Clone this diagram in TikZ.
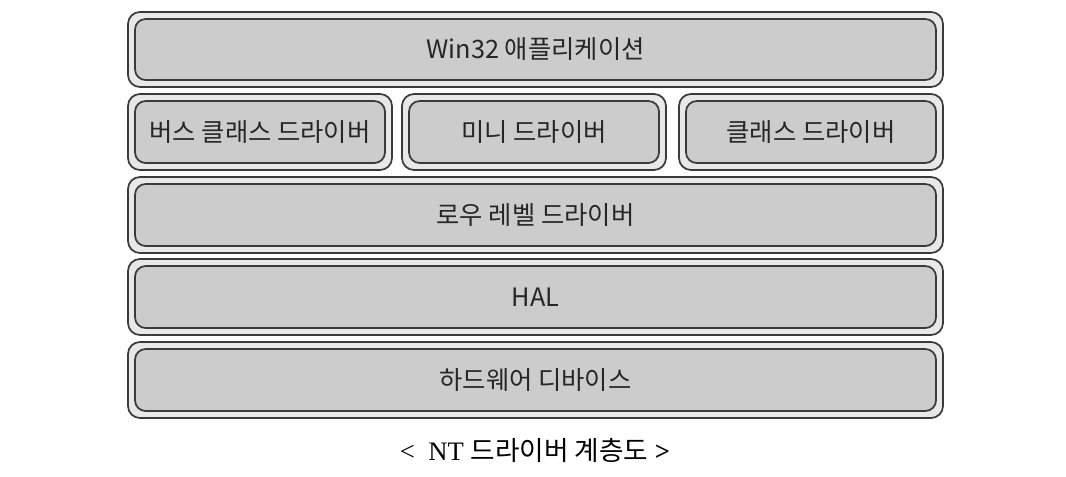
\documentclass[tikz,border=0pt]{standalone}
\usepackage{fontspec}
\setmainfont{Liberation Serif}
\newfontfamily\kr{Noto Sans CJK KR}
\usetikzlibrary{fit}
\definecolor{outerfill}{HTML}{E8E8E8}
\definecolor{innerfill}{HTML}{CCCCCC}
\definecolor{edge}{HTML}{3A3A3A}
\tikzset{
  outerbox/.style={draw=edge, fill=outerfill, line width=1.3pt, rounded corners=9pt, inner sep=0pt},
  innerbox/.style={draw=edge, fill=innerfill, line width=1.3pt, rounded corners=8pt, inner sep=0pt},
  label text/.style={font=\kr\fontsize{19}{22}\selectfont, text=black!85},
}
\newcommand{\layerbox}[6]{%
  \coordinate (#1-a) at (#2,#3);
  \coordinate (#1-b) at (#4,#5);
  \coordinate (#1-c) at ({#2+7},{#3+7});
  \coordinate (#1-d) at ({#4-7},{#5-7});
  \node[outerbox, fit=(#1-a)(#1-b)] (#1) {};
  \node[innerbox, fit=(#1-c)(#1-d)] (#1-in) {};
  \node[label text] (#1-t) at (#1-in.center) {#6};
}
\begin{document}
\begin{tikzpicture}[x=0.75pt,y=-0.75pt]
\useasboundingbox (0,0) rectangle (1066,476);
\layerbox{app}{128}{12}{943}{87}{Win32 애플리케이션}
\layerbox{bus}{128}{94}{392}{170}{버스 클래스 드라이버}
\layerbox{mini}{402}{94}{666}{170}{미니 드라이버}
\layerbox{cls}{679}{94}{943}{170}{클래스 드라이버}
\layerbox{low}{128}{177}{943}{253}{로우 레벨 드라이버}
\layerbox{hal}{128}{259}{943}{335}{HAL}
\layerbox{hw}{128}{342}{943}{418}{하드웨어 디바이스}
\node[font=\fontsize{20}{24}\selectfont] (cap) at (535,450) {\textless{}\ \ NT {\kr 드라이버 계층도} \textbf{\textgreater}};
\end{tikzpicture}
\end{document}
